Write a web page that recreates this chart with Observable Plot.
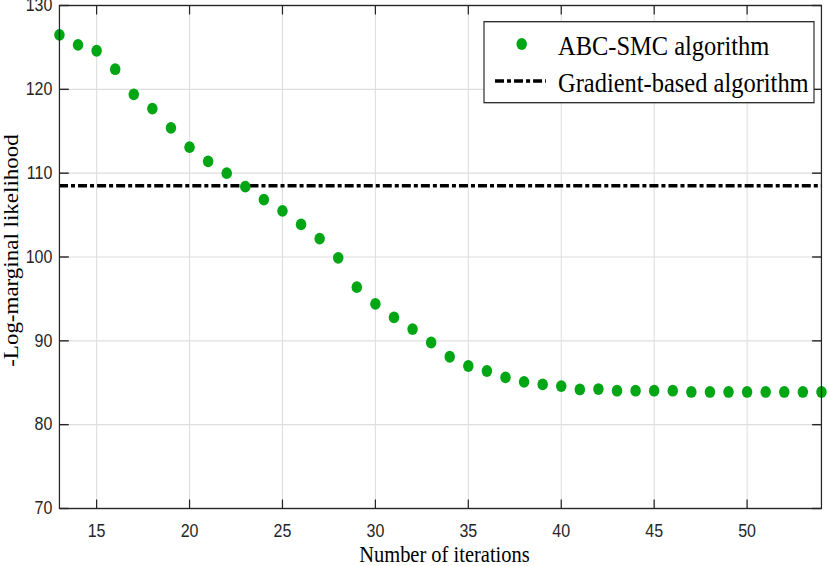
<!DOCTYPE html>
<html>
<head>
<meta charset="utf-8">
<script src="https://cdn.jsdelivr.net/npm/d3@7"></script>
<script src="https://cdn.jsdelivr.net/npm/@observablehq/plot@0.6"></script>
<style>
  html, body { margin: 0; padding: 0; background: white; }
  #chart { width: 827px; height: 566px; overflow: hidden; }
</style>
</head>
<body>
<div id="chart"></div>
<script>
// ---- data ----
const iterations = [13,14,15,16,17,18,19,20,21,22,23,24,25,26,27,28,29,30,31,32,33,
                    34,35,36,37,38,39,40,41,42,43,44,45,46,47,48,49,50,51,52,53,54];
const abcSmc = [126.5,125.3,124.6,122.4,119.4,117.7,115.4,113.1,111.4,110.0,108.4,
                106.85,105.5,103.9,102.2,99.9,96.4,94.4,92.8,91.4,89.8,88.1,87.0,86.4,
                85.65,85.1,84.8,84.6,84.2,84.25,84.05,84.05,84.05,84.05,83.9,83.9,83.9,
                83.9,83.9,83.9,83.9,83.9];
const gradientValue = 108.5;
const xTicks = [15,20,25,30,35,40,45,50];
const yTicks = [70,80,90,100,110,120,130];
const seriesNames = ["ABC-SMC algorithm", "Gradient-based algorithm"];
const xLabel = "Number of iterations";
const yLabel = "-Log-marginal likelihood";

const data = iterations.map((it, i) => ({it, v: abcSmc[i]}));

// ---- layout (drawn wide, then squeezed horizontally like the original figure) ----
const S = 0.89;
const W = 827 / S;
const H = 566;
const mL = 59 / S, mR = 6 / S, mT = 5, mB = 58;
const frameW = W - mL - mR, frameH = H - mT - mB;
const green = "#00a614";
const axisColor = "#262626";
const dash = "10.1,3.4,4.5,3.4";
const serif = "'Liberation Serif', 'Times New Roman', Times, serif";
const tickStyle = {tickFormat: () => "", label: null, stroke: axisColor, strokeWidth: 1.4};

const chart = Plot.plot({
  width: W,
  height: H,
  marginLeft: mL,
  marginRight: mR,
  marginTop: mT,
  marginBottom: mB,
  x: {domain: [13, 54], label: null},
  y: {domain: [70, 130], label: null},
  style: {fontFamily: "'Liberation Sans', Arial, sans-serif", fontSize: "18px", color: axisColor, background: "white"},
  marks: [
    Plot.gridX(xTicks, {stroke: "#dedede", strokeOpacity: 1, strokeWidth: 1.2}),
    Plot.gridY(yTicks, {stroke: "#dedede", strokeOpacity: 1, strokeWidth: 1.2}),
    Plot.ruleY([gradientValue], {stroke: "black", strokeWidth: 3.5, strokeDasharray: dash}),
    Plot.dot(data, {x: "it", y: "v", r: 5.9, fill: green}),
    Plot.frame({stroke: axisColor, strokeWidth: 1.4}),
    // inward tick marks on all four sides (outer-facing axes shifted across the frame)
    Plot.axisX(xTicks, {anchor: "top", tickSize: 9.5, dy: frameH, ...tickStyle}),
    Plot.axisX(xTicks, {anchor: "bottom", tickSize: 9.5, dy: -frameH, ...tickStyle}),
    Plot.axisY(yTicks, {anchor: "right", tickSize: 10, dx: -frameW, ...tickStyle}),
    Plot.axisY(yTicks, {anchor: "left", tickSize: 10, dx: frameW, ...tickStyle}),
    // tick labels
    Plot.axisX(xTicks, {anchor: "bottom", tickSize: 0, tickPadding: 15.4, label: null, fill: axisColor}),
    Plot.axisY(yTicks, {anchor: "left", tickSize: 0, tickPadding: 8, label: null, fill: axisColor}),
    // axis titles
    Plot.text([xLabel], {frameAnchor: "bottom", text: d => d, dx: 4.5, dy: 53.5, lineAnchor: "bottom",
                         textAnchor: "middle", fontFamily: serif, fontSize: 23, fill: "black"}),
    Plot.text([yLabel], {frameAnchor: "left", text: d => d, rotate: -90, dx: 20 - mL, dy: -6.5,
                         lineAnchor: "bottom", textAnchor: "middle", fontFamily: serif, fontSize: 23, fill: "black"})
  ]
});

// ---- legend ----
const svg = d3.select(chart);
const lg = svg.append("g").attr("text-anchor", "start");
const bx = 484 / S, bw = (814 - 484) / S;
lg.append("rect").attr("x", bx).attr("y", 21.7).attr("width", bw).attr("height", 81)
  .attr("fill", "white").attr("stroke", axisColor).attr("stroke-width", 1.3);
lg.append("circle").attr("cx", 521.7 / S).attr("cy", 44).attr("r", 5.9).attr("fill", green);
lg.append("line").attr("x1", 495 / S).attr("x2", 546 / S).attr("y1", 81).attr("y2", 81)
  .attr("stroke", "black").attr("stroke-width", 3.5).attr("stroke-dasharray", dash);
lg.append("text").attr("x", 558 / S).attr("y", 55).text(seriesNames[0])
  .attr("text-anchor", "start")
  .attr("font-family", serif).attr("font-size", 27.5).attr("fill", "black");
lg.append("text").attr("x", 558 / S).attr("y", 91.7).text(seriesNames[1])
  .attr("text-anchor", "start")
  .attr("font-family", serif).attr("font-size", 27.5).attr("fill", "black");

svg.attr("width", 827).attr("height", H)
   .attr("viewBox", `0 0 ${W} ${H}`)
   .attr("preserveAspectRatio", "none")
   .style("width", "827px").style("height", H + "px").style("max-width", "none");

document.getElementById("chart").appendChild(chart);
</script>
</body>
</html>
